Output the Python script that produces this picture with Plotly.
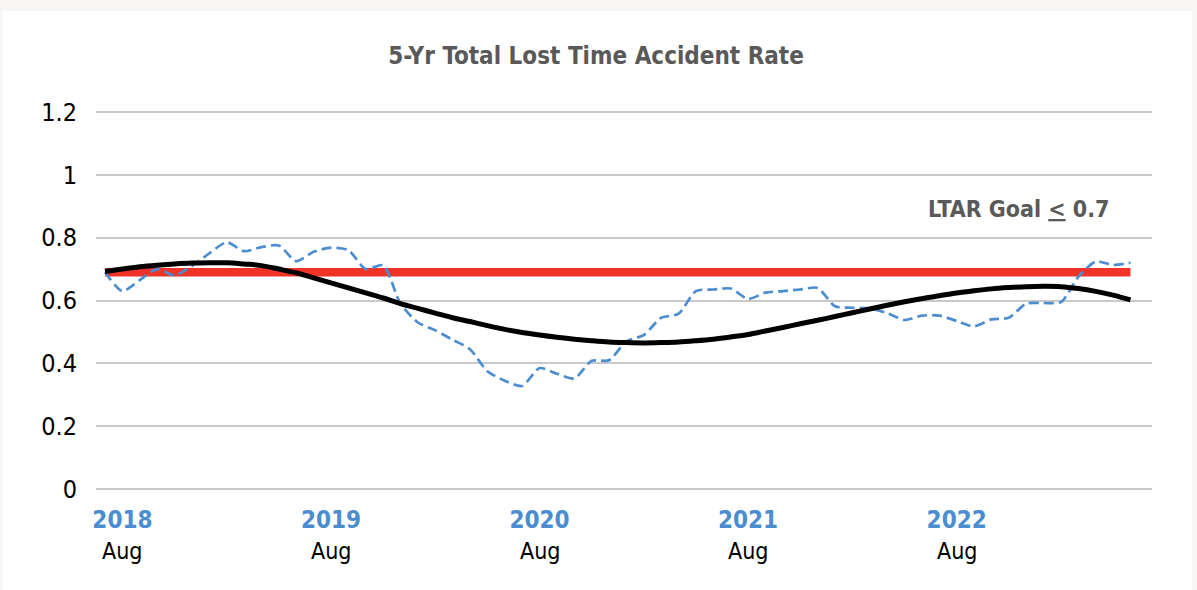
import plotly.graph_objects as go

# Monthly data, Jul 2018 .. Jun 2023 (index 0..59)
months = list(range(60))
ltar_rate = [0.69, 0.63, 0.665, 0.70, 0.68, 0.71, 0.75, 0.785, 0.757, 0.77,
             0.775, 0.725, 0.755, 0.768, 0.76, 0.70, 0.712, 0.59, 0.53, 0.505,
             0.475, 0.445, 0.375, 0.345, 0.328, 0.385, 0.367, 0.352, 0.408, 0.41,
             0.47, 0.49, 0.545, 0.558, 0.63, 0.635, 0.638, 0.605, 0.625, 0.63,
             0.635, 0.64, 0.582, 0.577, 0.575, 0.56, 0.538, 0.552, 0.552, 0.535,
             0.518, 0.54, 0.545, 0.59, 0.592, 0.595, 0.675, 0.724, 0.713, 0.72]
trend = [0.692, 0.70, 0.707, 0.712, 0.716, 0.719, 0.72, 0.72, 0.716, 0.711,
         0.70, 0.688, 0.672, 0.656, 0.64, 0.624, 0.608, 0.59, 0.575, 0.56,
         0.545, 0.533, 0.52, 0.508, 0.498, 0.49, 0.483, 0.477, 0.472, 0.468,
         0.466, 0.465, 0.466, 0.468, 0.472, 0.477, 0.484, 0.492, 0.503, 0.514,
         0.526, 0.537, 0.549, 0.561, 0.573, 0.585, 0.596, 0.606, 0.615, 0.624,
         0.631, 0.637, 0.641, 0.644, 0.645, 0.644, 0.638, 0.629, 0.617, 0.602]
goal = [0.69] * 60

tick_idx = [1, 13, 25, 37, 49]
tick_years = ["2018", "2019", "2020", "2021", "2022"]
tick_months = ["Aug", "Aug", "Aug", "Aug", "Aug"]
y_ticks = [0, 0.2, 0.4, 0.6, 0.8, 1, 1.2]
y_labels = ["0", "0.2", "0.4", "0.6", "0.8", "1", "1.2"]

FONT = "DejaVu Sans Condensed, Liberation Sans Narrow, Roboto, sans-serif"
BLUE = "#4a8dd0"

# plot area geometry (pixels)
L, R, T, B = 96, 45, 110, 99
H = 590 - T - B


def py(p):
    """paper y coordinate for a pixel row"""
    return (590 - B - p) / H


def px(p):
    return (p - L) / (1197 - L - R)


fig = go.Figure()
fig.add_trace(go.Scatter(x=months, y=goal, mode="lines",
                         line=dict(color="#ef3327", width=8.5), hoverinfo="skip"))
fig.add_trace(go.Scatter(x=months, y=ltar_rate, mode="lines",
                         line=dict(color=BLUE, width=2.7, dash="10px,5px",
                                   shape="spline", smoothing=0.7)))
fig.add_trace(go.Scatter(x=months, y=trend, mode="lines",
                         line=dict(color="#000000", width=5, shape="spline")))

annotations = []
for t, m in zip(tick_idx, tick_months):
    annotations.append(dict(x=t, xref="x", y=py(551), yref="paper",
                            text=m, showarrow=False, yanchor="middle",
                            font=dict(family=FONT, size=23, color="#000000")))
annotations.append(dict(x=px(1112), xref="paper", y=py(209), yref="paper",
                        yanchor="middle", xanchor="right",
                        text="<b>LTAR Goal <u>&lt;</u> 0.7</b>", showarrow=False,
                        font=dict(family=FONT, size=23, color="#595959")))

fig.update_layout(
    width=1197, height=590,
    margin=dict(l=L, r=R, t=T, b=B),
    paper_bgcolor="#f8f7f5",
    plot_bgcolor="#ffffff",
    showlegend=False,
    title=dict(text="<b>5-Yr Total Lost Time Accident Rate</b>",
               x=596 / 1197, xanchor="center", y=1 - 56 / 590, yanchor="middle",
               font=dict(family=FONT, size=24, color="#595959")),
    xaxis=dict(range=[-0.52, 60.24], showgrid=False, zeroline=False,
               showline=False, tickvals=tick_idx,
               ticktext=["<b>" + y + "</b>" for y in tick_years],
               tickfont=dict(family=FONT, size=24, color=BLUE),
               ticks="", ticklabelstandoff=12),
    yaxis=dict(range=[-0.006, 1.206], tickvals=y_ticks, ticktext=y_labels,
               showgrid=True, gridcolor="#c9c9c9", gridwidth=1.5,
               zeroline=False, showline=False,
               tickfont=dict(family=FONT, size=25, color="#000000"),
               ticklabelstandoff=18),
    annotations=annotations,
    shapes=[dict(type="rect", xref="paper", yref="paper",
                 x0=px(3), x1=px(1192), y0=py(600), y1=py(11),
                 fillcolor="#ffffff", line=dict(width=0), layer="below")],
)

fig.write_html("out.html", config={"displayModeBar": False},
               post_script="document.body.style.margin='0';")
